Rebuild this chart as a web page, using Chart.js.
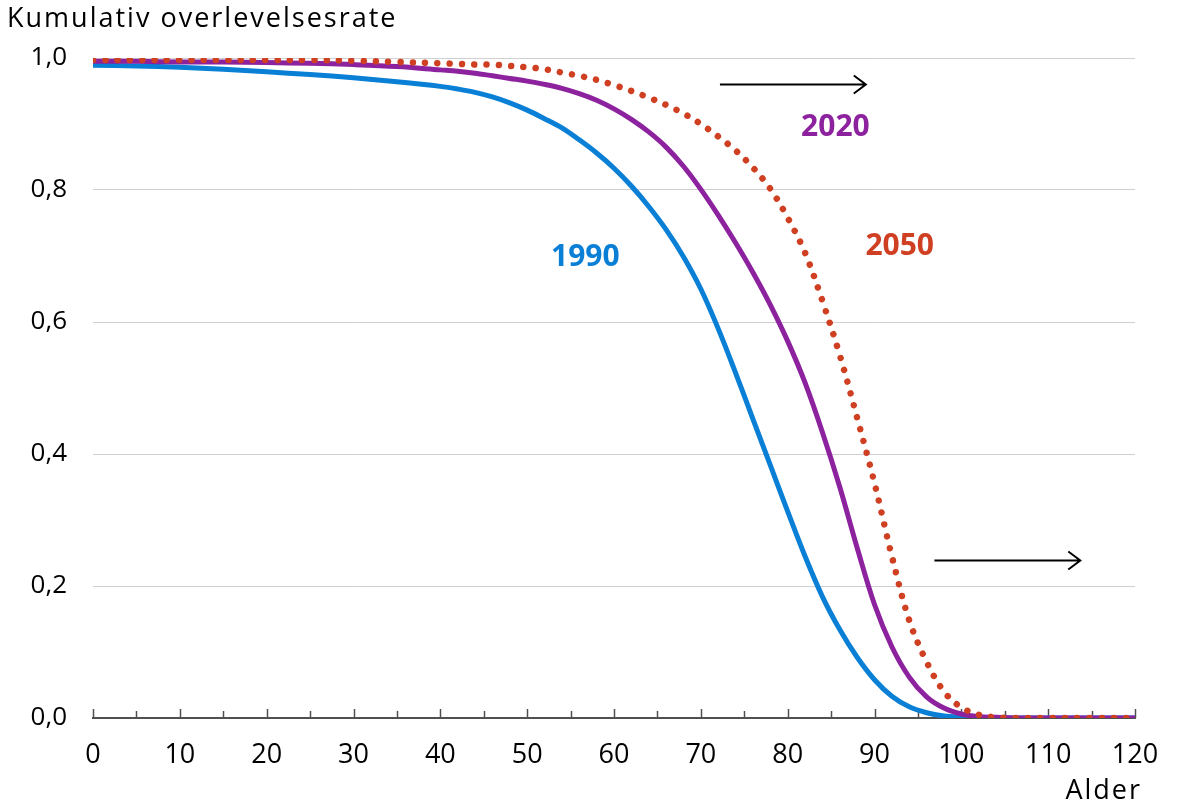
<!DOCTYPE html>
<html>
<head>
<meta charset="utf-8">
<script src="https://cdn.jsdelivr.net/npm/chart.js@4.4.1/dist/chart.umd.min.js"></script>
<style>
  html, body { margin: 0; padding: 0; background: #ffffff; }
  #wrap { width: 1185px; height: 804px; position: relative; }
</style>
</head>
<body>
<div id="wrap"><canvas id="chartCanvas" width="1185" height="804"></canvas></div>
<script>
// ages (x) shared by all three series
var ages = [0, 5, 10, 15, 20, 25, 30, 35, 40, 42, 44, 46, 48, 50, 52, 54, 56, 58, 60, 62, 64, 66, 68, 70, 72, 74,
  76, 78, 80, 82, 84, 86, 88, 90, 92, 94, 96, 98, 100, 102, 104, 106, 110, 115, 120];

var survival1990 = [0.989, 0.988, 0.986, 0.983, 0.979, 0.975, 0.970, 0.964, 0.957, 0.953, 0.948, 0.941, 0.932,
  0.921, 0.908, 0.894, 0.876, 0.856, 0.833, 0.806, 0.775, 0.740, 0.699, 0.650, 0.590, 0.523, 0.453, 0.383, 0.313,
  0.245, 0.184, 0.134, 0.092, 0.058, 0.033, 0.017, 0.008, 0.003, 0.001, 0.000, 0.000, 0.000, 0.000, 0.000, 0.000];

var survival2020 = [0.995, 0.995, 0.994, 0.994, 0.993, 0.992, 0.990, 0.987, 0.982, 0.980, 0.977, 0.973, 0.969,
  0.965, 0.960, 0.954, 0.946, 0.936, 0.923, 0.907, 0.888, 0.865, 0.836, 0.801, 0.762, 0.720, 0.675, 0.626, 0.571,
  0.508, 0.433, 0.350, 0.258, 0.172, 0.108, 0.062, 0.032, 0.015, 0.006, 0.002, 0.001, 0.000, 0.000, 0.000, 0.000];

var survival2050 = [0.997, 0.997, 0.997, 0.997, 0.997, 0.997, 0.996, 0.994, 0.992, 0.991, 0.990, 0.990, 0.988,
  0.986, 0.983, 0.978, 0.973, 0.967, 0.959, 0.950, 0.940, 0.929, 0.916, 0.900, 0.881, 0.860, 0.834, 0.802, 0.758,
  0.705, 0.632, 0.550, 0.455, 0.356, 0.245, 0.148, 0.085, 0.040, 0.016, 0.005, 0.001, 0.000, 0.000, 0.000, 0.000];

var seriesLabels = ['1990', '2020', '2050'];
var seriesColors = ['#0a7fd6', '#8d229e', '#cf3f22'];

// label anchors in data units: [age, value]
var labelPositions = [[56.7, 0.698], [85.5, 0.895], [92.9, 0.714]];
// arrows in data units: [fromAge, toAge, value]
var arrows = [[72.2, 89.0, 0.961], [96.9, 113.7, 0.239]];

var yTicks = [0, 0.2, 0.4, 0.6, 0.8, 1.0];
var FONT = "'Open Sans', sans-serif";

function toPoints(values) {
  return ages.map(function(a, i) { return { x: a, y: values[i] }; });
}

var decorPlugin = {
  id: 'decor',
  beforeDatasetsDraw: function(chart) {
    var ctx = chart.ctx;
    var xs = chart.scales.x;
    var bottom = chart.chartArea.bottom;
    ctx.save();
    ctx.strokeStyle = '#505050';
    ctx.lineWidth = 1.5;
    for (var a = 0; a <= 120; a += 5) {
      var px = Math.round(xs.getPixelForValue(a)) + 0.5;
      var len = a % 10 === 0 ? 9 : 7;
      ctx.beginPath();
      ctx.moveTo(px, bottom);
      ctx.lineTo(px, bottom - len);
      ctx.stroke();
    }
    ctx.restore();
  },
  afterDatasetsDraw: function(chart) {
    var ctx = chart.ctx;
    var xs = chart.scales.x;
    var ys = chart.scales.y;
    ctx.save();

    // arrows
    ctx.strokeStyle = '#000000';
    ctx.lineWidth = 2;
    arrows.forEach(function(ar) {
      var x1 = xs.getPixelForValue(ar[0]);
      var x2 = xs.getPixelForValue(ar[1]);
      var y = Math.round(ys.getPixelForValue(ar[2])) + 0.5;
      ctx.beginPath();
      ctx.moveTo(x1, y);
      ctx.lineTo(x2, y);
      ctx.moveTo(x2 - 12, y - 9);
      ctx.lineTo(x2, y);
      ctx.lineTo(x2 - 12, y + 9);
      ctx.stroke();
    });

    // series labels
    ctx.font = 'bold 30px ' + FONT;
    ctx.textAlign = 'center';
    ctx.textBaseline = 'middle';
    labelPositions.forEach(function(p, i) {
      ctx.fillStyle = seriesColors[i];
      ctx.fillText(seriesLabels[i], xs.getPixelForValue(p[0]), ys.getPixelForValue(p[1]));
    });

    // titles
    ctx.fillStyle = '#000000';
    ctx.font = '27px ' + FONT;
    ctx.letterSpacing = '2px';
    ctx.textAlign = 'left';
    ctx.fillText('Kumulativ overlevelsesrate', 7, 19);
    ctx.textAlign = 'right';
    ctx.fillText('Alder', 1142, 791);
    ctx.restore();
  }
};

var chart = new Chart(document.getElementById('chartCanvas'), {
  type: 'line',
  data: {
    datasets: [
      {
        label: seriesLabels[2],
        data: toPoints(survival2050),
        borderColor: seriesColors[2],
        borderWidth: 6.5,
        borderDash: [0.001, 12.3],
        borderCapStyle: 'round',
        pointRadius: 0,
        tension: 0.35,
        order: 0
      },
      {
        label: seriesLabels[1],
        data: toPoints(survival2020),
        borderColor: seriesColors[1],
        borderWidth: 5,
        pointRadius: 0,
        tension: 0.35,
        order: 1
      },
      {
        label: seriesLabels[0],
        data: toPoints(survival1990),
        borderColor: seriesColors[0],
        borderWidth: 5,
        pointRadius: 0,
        tension: 0.35,
        order: 2
      }
    ]
  },
  options: {
    responsive: false,
    devicePixelRatio: 1,
    animation: false,
    layout: { padding: { left: 0, right: 50, top: 58, bottom: 0 } },
    plugins: {
      legend: { display: false },
      tooltip: { enabled: false }
    },
    scales: {
      x: {
        type: 'linear',
        min: 0,
        max: 120,
        grid: { display: false },
        border: { display: true, color: '#505050', width: 2 },
        ticks: {
          stepSize: 10,
          padding: 13,
          color: '#000000',
          font: { family: FONT, size: 27 },
          maxRotation: 0
        },
        afterFit: function(s) { s.height = 86; }
      },
      y: {
        min: 0,
        max: 1,
        afterBuildTicks: function(s) { s.ticks = yTicks.map(function(v) { return { value: v }; }); },
        grid: { color: '#d0d0d0', lineWidth: 1, drawTicks: false },
        border: { display: false },
        ticks: {
          padding: 26,
          color: '#000000',
          font: { family: FONT, size: 26 },
          callback: function(v) { return v.toFixed(1).replace('.', ','); }
        },
        afterFit: function(s) { s.width = 93; }
      }
    }
  },
  plugins: [decorPlugin]
});
</script>
</body>
</html>
